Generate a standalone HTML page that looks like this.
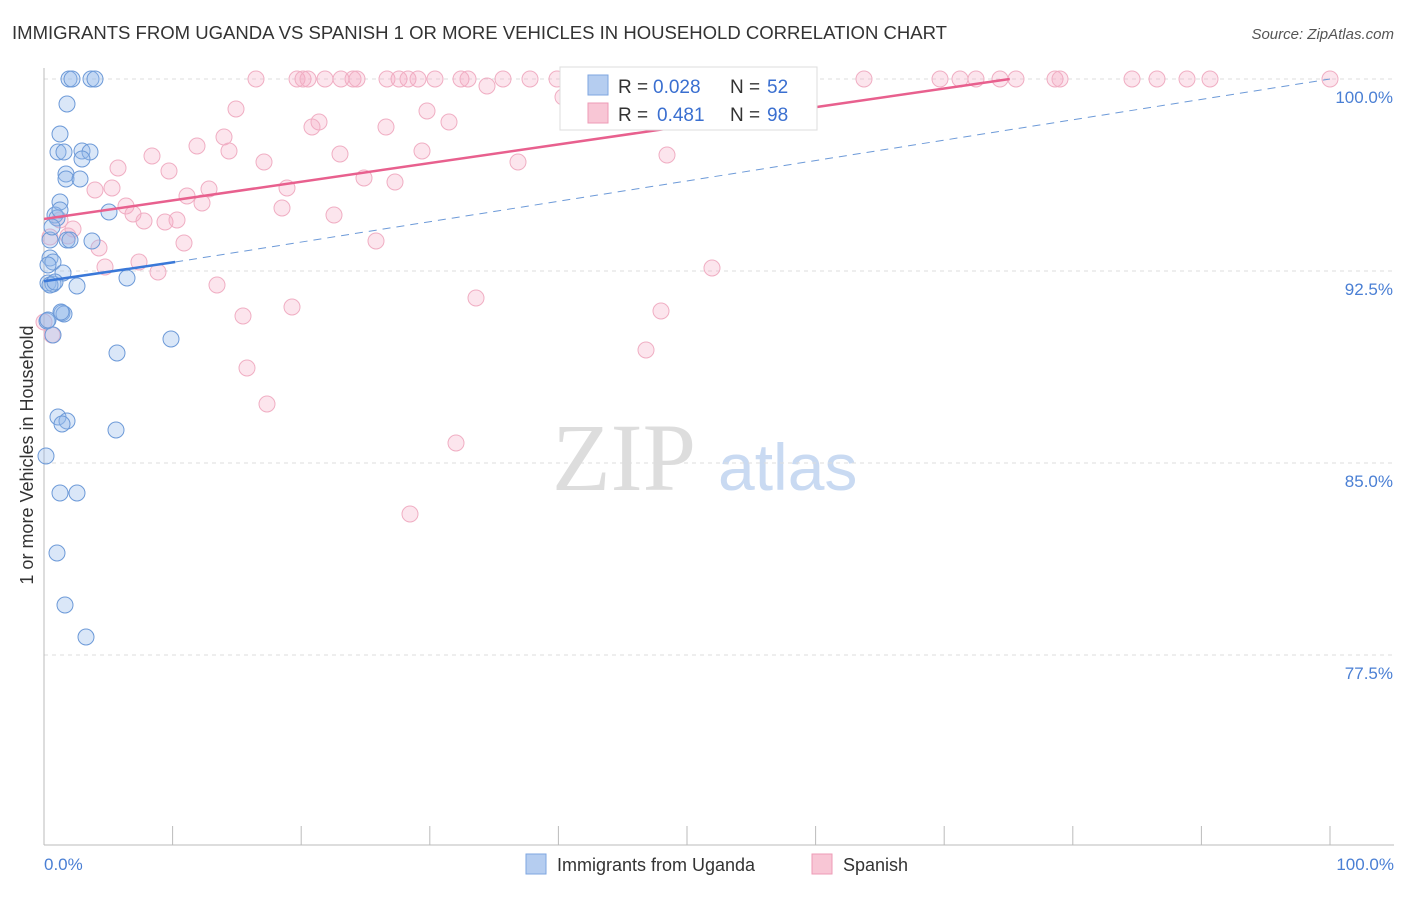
<!DOCTYPE html>
<html><head><meta charset="utf-8"><style>
body{margin:0;background:#fff;font-family:"Liberation Sans",sans-serif}
</style></head><body>
<svg id="chart" width="1406" height="892" xmlns="http://www.w3.org/2000/svg" font-family="Liberation Sans, sans-serif">
<text x="12" y="39" font-size="18" fill="#333" textLength="935" lengthAdjust="spacingAndGlyphs">IMMIGRANTS FROM UGANDA VS SPANISH 1 OR MORE VEHICLES IN HOUSEHOLD CORRELATION CHART</text>
<text x="1394" y="39" font-size="15" fill="#555" text-anchor="end" font-style="italic">Source: ZipAtlas.com</text>
<text x="552" y="490" font-size="96" fill="#ddd" font-family="Liberation Serif, serif">ZIP</text>
<text x="718" y="490" font-size="66" fill="#c9daf2">atlas</text>
<g id="grid"></g><g id="axes"></g><g id="marks"></g>
<text transform="translate(33,455) rotate(-90)" font-size="18" fill="#333" text-anchor="middle">1 or more Vehicles in Household</text>
<text x="44" y="870" font-size="17" fill="#4a7fd4">0.0%</text>
<text x="1394" y="870" font-size="17" fill="#4a7fd4" text-anchor="end">100.0%</text>
<g>
<rect x="560" y="67" width="257" height="63" fill="#fff" stroke="#ddd"/>
<rect x="588" y="75" width="20" height="20" fill="#b5cdf0" stroke="#7ea6e0"/>
<text x="618" y="93" font-size="19" fill="#333">R =</text>
<text x="653" y="93" font-size="19" fill="#3a6fd0">0.028</text>
<text x="730" y="93" font-size="19" fill="#333">N =</text>
<text x="767" y="93" font-size="19" fill="#3a6fd0">52</text>
<rect x="588" y="103" width="20" height="20" fill="#f8c6d5" stroke="#ee9bb6"/>
<text x="618" y="121" font-size="19" fill="#333">R =</text>
<text x="657" y="121" font-size="19" fill="#3a6fd0">0.481</text>
<text x="730" y="121" font-size="19" fill="#333">N =</text>
<text x="767" y="121" font-size="19" fill="#3a6fd0">98</text>
</g>
<g>
<rect x="526" y="854" width="20" height="20" fill="#b5cdf0" stroke="#7ea6e0"/>
<text x="557" y="871" font-size="18" fill="#333">Immigrants from Uganda</text>
<rect x="812" y="854" width="20" height="20" fill="#f8c6d5" stroke="#ee9bb6"/>
<text x="843" y="871" font-size="18" fill="#333">Spanish</text>
</g>
</svg>
<script>
const yTicks=[100,92.5,85,77.5];
const yTickLabels=["100.0%","92.5%","85.0%","77.5%"];
const xTicks=[0,10,20,30,40,50,60,70,80,90,100];
const bluePx=[[69,79],[72,79],[91,79],[95,79],[67,104],[60,134],[58,152],[64,152],[82,151],[90,152],[82,159],[66,174],[66,179],[80,179],[60,202],[55,215],[57,218],[109,212],[50,240],[67,240],[92,241],[50,258],[53,262],[48,265],[63,273],[48,283],[53,284],[77,286],[127,278],[62,313],[64,314],[47,321],[53,335],[171,339],[117,353],[58,417],[67,421],[62,424],[116,430],[46,456],[60,493],[77,493],[57,553],[65,605],[86,637],[50,285],[55,282],[48,320],[61,312],[70,240],[52,227],[60,210]];
const pinkPx=[[256,79],[297,79],[303,79],[308,79],[325,79],[341,79],[353,79],[357,79],[387,79],[399,79],[408,79],[418,79],[435,79],[461,79],[468,79],[503,79],[530,79],[557,79],[582,79],[599,79],[617,79],[648,79],[664,79],[702,79],[720,79],[753,79],[766,79],[864,79],[940,79],[960,79],[976,79],[1000,79],[1016,79],[1055,79],[1060,79],[1132,79],[1157,79],[1187,79],[1210,79],[1330,79],[487,86],[563,97],[236,109],[319,122],[312,127],[427,111],[449,122],[386,127],[224,137],[197,146],[229,151],[340,154],[422,151],[152,156],[264,162],[518,162],[667,155],[118,168],[169,171],[364,178],[395,182],[287,188],[95,190],[112,188],[209,189],[187,196],[202,203],[282,208],[126,206],[133,214],[334,215],[144,221],[165,222],[177,220],[60,220],[73,229],[50,237],[68,236],[184,243],[376,241],[99,248],[105,267],[139,262],[158,272],[712,268],[217,285],[476,298],[292,307],[661,311],[243,316],[44,322],[52,335],[646,350],[247,368],[267,404],[456,443],[410,514]];
const blueX=bluePx.map(p=>(p[0]-44)/12.86), blueY=bluePx.map(p=>100-(p[1]-79)/25.6);
const pinkX=pinkPx.map(p=>(p[0]-44)/12.86), pinkY=pinkPx.map(p=>100-(p[1]-79)/25.6);
const pinkTrend=[[0,94.53],[75.1,100]];
const blueTrend=[[0,92.1],[10.2,92.85],[100,100]];
const X=v=>44+v*12.86, Y=v=>79+(100-v)*25.6;
const NS="http://www.w3.org/2000/svg";
function mk(t,a,parent){const e=document.createElementNS(NS,t);for(const k in a)e.setAttribute(k,a[k]);document.getElementById(parent).appendChild(e);return e;}
yTicks.forEach((t,i)=>{
 const l=mk('line',{x1:44,x2:1394,y1:Y(t),y2:Y(t),stroke:'#ddd','stroke-dasharray':'4,4'},'grid');
 
 
 const tx=mk('text',{x:1393,y:Y(t)+24,'font-size':17,fill:'#4a7fd4','text-anchor':'end'},'grid');
 tx.textContent=yTickLabels[i];
 
 
});
const ax=mk('line',{x1:44,x2:1394,y1:845,y2:845,stroke:'#bbb'},'axes');


const ay=mk('line',{x1:44,x2:44,y1:68,y2:845,stroke:'#bbb'},'axes');


xTicks.forEach(t=>{const l=mk('line',{x1:X(t),x2:X(t),y1:826,y2:845,stroke:'#bbb'},'axes');
 
 });
pinkX.forEach((x,i)=>{const c=mk('circle',{cx:X(x),cy:Y(pinkY[i]),r:8,fill:'rgba(245,170,195,0.3)',stroke:'#f0aec3','stroke-width':1},'marks');
 
 });
blueX.forEach((x,i)=>{const c=mk('circle',{cx:X(x),cy:Y(blueY[i]),r:8,fill:'rgba(150,185,235,0.35)',stroke:'#6d9ad8','stroke-width':1},'marks');
 
 });
const pl=mk('line',{x1:X(pinkTrend[0][0]),y1:Y(pinkTrend[0][1]),x2:X(pinkTrend[1][0]),y2:Y(pinkTrend[1][1]),stroke:'#e8608e','stroke-width':2.5},'marks');


const bl=mk('line',{x1:X(blueTrend[0][0]),y1:Y(blueTrend[0][1]),x2:X(blueTrend[1][0]),y2:Y(blueTrend[1][1]),stroke:'#3a78d8','stroke-width':2.5},'marks');


const bd=mk('line',{x1:X(blueTrend[1][0]),y1:Y(blueTrend[1][1]),x2:X(blueTrend[2][0]),y2:Y(blueTrend[2][1]),stroke:'#6d9ad8','stroke-width':1,'stroke-dasharray':'8,6'},'marks');


</script>
</body></html>
